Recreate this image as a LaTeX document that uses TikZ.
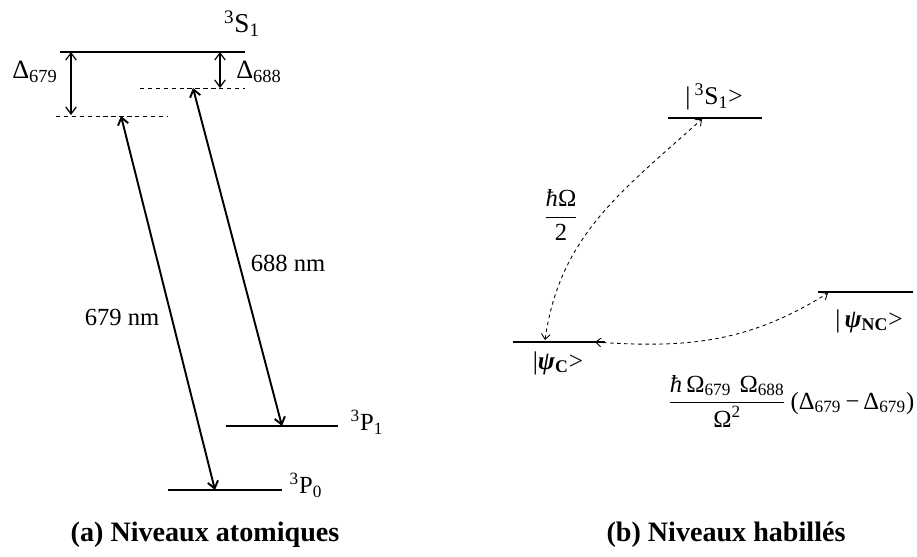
\documentclass[tikz,border=0pt]{standalone}
\usepackage{amsmath}
\usepackage{fontspec}
\setmainfont{Liberation Serif}
\usetikzlibrary{arrows.meta,positioning}

\begin{document}
\begin{tikzpicture}[x=0.02cm, y=0.02cm, >={Straight Barb[length=4pt,width=6pt]},
  level/.style={line width=0.6pt},
  virtual/.style={line width=0.4pt, dash pattern=on 2.5pt off 2pt},
  laser/.style={<->, line width=1.1pt},
  detuning/.style={<->, line width=0.7pt},
  coupling/.style={<->, line width=0.5pt, dash pattern=on 2pt off 2pt,
    >={Straight Barb[length=3pt,width=5pt]}},
  caption/.style={font=\fontsize{16}{18}\selectfont\bfseries}]
  \useasboundingbox (0,0) rectangle (917,-556);

  %% (a) atomic levels
  \coordinate (S1a) at (60,-52);   \coordinate (S1b) at (245,-52);
  \coordinate (V79a) at (56,-116); \coordinate (V79b) at (167,-116);
  \coordinate (V88a) at (140,-88); \coordinate (V88b) at (245,-88);
  \coordinate (P1a) at (226,-426); \coordinate (P1b) at (338,-426);
  \coordinate (P0a) at (168,-490); \coordinate (P0b) at (282,-490);
  \draw[level] (S1a) -- (S1b);
  \draw[virtual] (V79a) -- (V79b);
  \draw[virtual] (V88a) -- (V88b);
  \draw[level] (P1a) -- (P1b);
  \draw[level] (P0a) -- (P0b);

  \node[font=\fontsize{15.5}{17}\selectfont] (S1) at (242,-24) {\textsuperscript{3}S\textsubscript{1}};
  \node[font=\fontsize{14}{16}\selectfont] (P1) at (367,-422) {\textsuperscript{3}P\textsubscript{1}};
  \node[font=\fontsize{14}{16}\selectfont] (P0) at (306,-485) {\textsuperscript{3}P\textsubscript{0}};

  %% detunings
  \coordinate (d79t) at (71,-52);  \coordinate (d79b) at (71,-115);
  \coordinate (d88t) at (220,-52); \coordinate (d88b) at (220,-88);
  \draw[detuning] (d79t) -- (d79b);
  \draw[detuning] (d88t) -- (d88b);
  \node[font=\fontsize{15}{17}\selectfont] (D79) at (35,-72) {Δ\textsubscript{679}};
  \node[font=\fontsize{15}{17}\selectfont] (D88) at (259,-72) {Δ\textsubscript{688}};

  %% laser transitions
  \coordinate (L79t) at (121,-116); \coordinate (L79b) at (215,-490);
  \coordinate (L88t) at (193,-88);  \coordinate (L88b) at (282,-426);
  \draw[laser] (L79t) -- (L79b);
  \draw[laser] (L88t) -- (L88b);
  \node[font=\fontsize{14}{16}\selectfont] (nm79) at (122,-317) {679 nm};
  \node[font=\fontsize{14}{16}\selectfont] (nm88) at (288,-263) {688 nm};

  \node[caption] (capa) at (205,-535) {(a) Niveaux atomiques};

  %% (b) dressed levels
  \coordinate (KSa) at (668,-118); \coordinate (KSb) at (762,-118);
  \coordinate (NCa) at (818,-292); \coordinate (NCb) at (913,-292);
  \coordinate (Ca) at (513,-342);  \coordinate (Cb) at (605,-342);
  \draw[level] (KSa) -- (KSb);
  \draw[level] (NCa) -- (NCb);
  \draw[level] (Ca) -- (Cb);

  \node[font=\fontsize{14.5}{16}\selectfont] (kS1) at (714,-97) {|\,\textsuperscript{3}S\textsubscript{1}>};
  \node[font=\fontsize{14.5}{16}\selectfont] (kNC) at (869,-321) {|\,{\bfseries\itshape ψ}\textsubscript{\bfseries NC}>};
  \node[font=\fontsize{14.5}{16}\selectfont] (kC) at (558,-363) {|{\bfseries\itshape ψ}\textsubscript{\bfseries C}>};

  %% couplings
  \coordinate (cS1) at (702,-119); \coordinate (cC1) at (545,-340);
  \coordinate (cNC) at (828,-293); \coordinate (cC2) at (595,-342);
  \draw[coupling] (cC1) to[out=82, in=222] (cS1);
  \draw[coupling] (cC2) to[out=-4, in=212] (cNC);
  \node[font=\fontsize{14}{16}\selectfont] (Om) at (561,-215)
    {$\dfrac{\text{\textit{ħ}Ω}}{\text{2}}$};
  \node[font=\fontsize{14}{16}\selectfont] (Lsh) at (791,-401)
    {$\dfrac{\text{\textit{ħ}\,Ω\textsubscript{679}\,\,Ω\textsubscript{688}}}{\text{Ω\textsuperscript{2}}}$\,(Δ\textsubscript{679}\,−\,Δ\textsubscript{679})};

  \node[caption] (capb) at (726,-535) {(b) Niveaux habillés};
\end{tikzpicture}
\end{document}
